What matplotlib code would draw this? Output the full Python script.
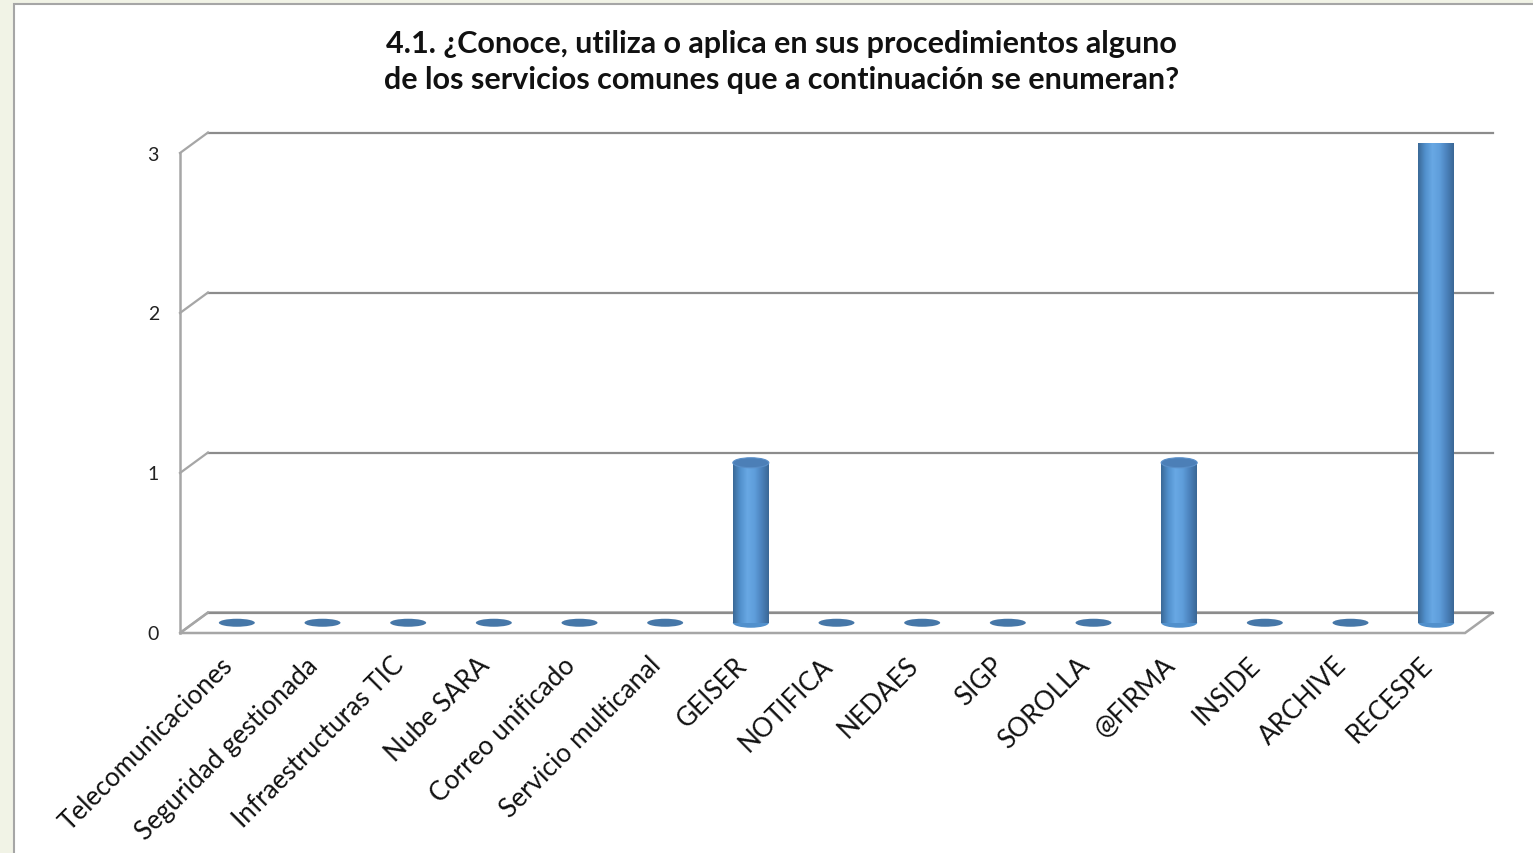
import matplotlib.pyplot as plt
import matplotlib.transforms as mtransforms
from matplotlib.patches import Rectangle, Ellipse, Polygon
from matplotlib.lines import Line2D
from matplotlib.colors import LinearSegmentedColormap
import numpy as np

plt.rcParams['font.family'] = ['Lato', 'DejaVu Sans']

# data
servicios = ["Telecomunicaciones", "Seguridad gestionada", "Infraestructuras TIC",
             "Nube SARA", "Correo unificado", "Servicio multicanal", "GEISER",
             "NOTIFICA", "NEDAES", "SIGP", "SOROLLA", "@FIRMA", "INSIDE",
             "ARCHIVE", "RECESPE"]
respuestas = [0, 0, 0, 0, 0, 0, 1, 0, 0, 0, 0, 1, 0, 0, 3]
yticks = [0, 1, 2, 3]
titulo = ("4.1. ¿Conoce, utiliza o aplica en sus procedimientos alguno\n"
          "de los servicios comunes que a continuación se enumeran?")

W, H, DPI = 1533, 854, 100
fig = plt.figure(figsize=(W / DPI, H / DPI), dpi=DPI)
fig.patch.set_facecolor("#f1f3e6")

# white chart panel
fig.patches.append(Rectangle((14 / W, -0.05), 1.1, 1 - 5 / H + 0.05, transform=fig.transFigure,
                             facecolor="white", edgecolor="#a6a6a6", lw=1.5, zorder=-1))

# front plane of the 3d box
ax = fig.add_axes([180 / W, (H - 634) / H, (1465 - 180) / W, (634 - 154) / H])
ax.set_xlim(-0.5, len(servicios) - 0.5)
ax.set_ylim(0, 3)
ax.axis("off")
ax.patch.set_alpha(0)

DX, DY = 28, 20.5  # depth offset in pixels
ident = mtransforms.IdentityTransform()


def P(x, y, d):
    px, py = ax.transData.transform((x, y))
    return (px + d * DX, py + d * DY)


def seg(p1, p2, color="#8c8c8c", lw=1.6, z=1):
    ax.add_line(Line2D([p1[0], p2[0]], [p1[1], p2[1]], transform=ident,
                       color=color, lw=lw, zorder=z, clip_on=False))


x0, x1 = -0.5, len(servicios) - 0.5
# floor
floor = Polygon([P(x0, 0, 0), P(x1, 0, 0), P(x1, 0, 1), P(x0, 0, 1)], closed=True,
                transform=ident, facecolor="white", edgecolor="#a6a6a6", lw=1.8, zorder=1,
                clip_on=False)
ax.add_patch(floor)
# left wall front edge
seg(P(x0, 0, 0), P(x0, 3, 0), color="#a6a6a6", lw=1.8)
# gridlines on back wall + left wall diagonals
for v in yticks:
    seg(P(x0, v, 1), P(x1, v, 1), color="#8c8c8c", lw=1.6)
    seg(P(x0, v, 0), P(x0, v, 1), color="#a6a6a6", lw=1.6)
    ax.text(x0, v, str(v), ha="right", va="center", fontsize=14, color="#222222",
            transform=ax.transData + mtransforms.ScaledTranslation(-21 / DPI, -1 / DPI, fig.dpi_scale_trans))

# cylinders at mid depth
mid = ax.transData + mtransforms.ScaledTranslation(DX / 2 / DPI, DY / 2 / DPI, fig.dpi_scale_trans)
bw = 0.42
eh = 10 / 160
cmap = LinearSegmentedColormap.from_list("cyl", ["#3a6896", "#5190cc", "#68a8e4", "#5f9edb",
                                                 "#4b82bc", "#3a6795"])
grad = np.linspace(0, 1, 256).reshape(1, -1)
xs = np.arange(len(servicios))
for i, v in zip(xs, respuestas):
    if v == 0:
        ax.add_patch(Ellipse((i, 0), bw, eh * 0.8, transform=mid, facecolor="#4677a8",
                             edgecolor="none", zorder=3))
        continue
    ax.add_patch(Ellipse((i, 0), bw, eh, transform=mid, facecolor="#5190cc",
                         edgecolor="none", zorder=3))
    bars = ax.bar([i], [v], width=bw, transform=mid, color="#5596d3", zorder=4)
    img = ax.imshow(grad, aspect="auto", cmap=cmap, extent=(i - bw / 2, i + bw / 2, 0, v),
                    transform=mid, zorder=4.5, interpolation="bilinear")
    img.set_clip_path(bars.patches[0])
    ax.add_patch(Ellipse((i, v), bw, eh, transform=mid, facecolor="#4c7fb7",
                         edgecolor="#5a8fc8", lw=0.8, zorder=5))
ax.set_xlim(-0.5, len(servicios) - 0.5)
ax.set_ylim(0, 3)

# category labels
lab_tr = ax.transData + mtransforms.ScaledTranslation(-3 / DPI, -19 / DPI, fig.dpi_scale_trans)
for i, s in zip(xs, servicios):
    ax.text(i, 0, s, rotation=45, ha="right", va="top", rotation_mode="anchor",
            fontsize=18.8, color="#111111", transform=lab_tr, clip_on=False)

fig.text(781.5 / W, 1 - 62 / H, titulo, ha="center", va="center", fontsize=22,
         fontweight="bold", color="#111111", linespacing=1.38)

fig.savefig("out.png", dpi=DPI)
